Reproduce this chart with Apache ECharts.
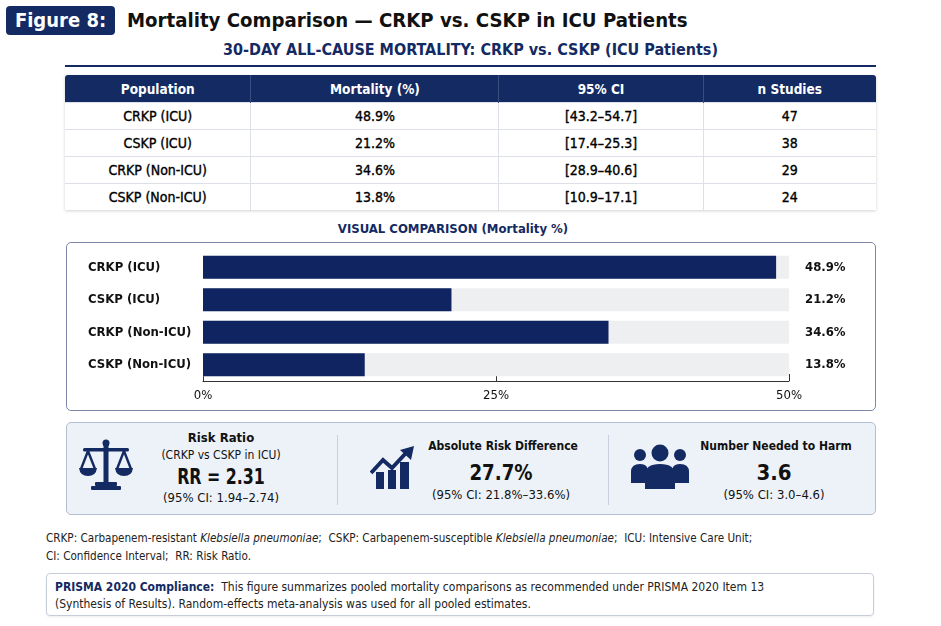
<!DOCTYPE html>
<html>
<head>
<meta charset="utf-8">
<script src="https://cdn.jsdelivr.net/npm/echarts@6/dist/echarts.min.js"></script>
<style>
  html,body{margin:0;padding:0;background:#fff;}
  body{width:941px;height:626px;position:relative;overflow:hidden;
       font-family:'DejaVu Sans Condensed','DejaVu Sans','Roboto',sans-serif;color:#111;}
  .abs{position:absolute;}
  #badge{left:6px;top:6px;width:109px;height:29px;background:#132a63;border-radius:4px;color:#fff;
         font-weight:bold;font-size:20px;line-height:29px;text-align:center;}
  #title{left:127px;top:6px;height:29px;line-height:29px;font-weight:bold;font-size:20.2px;color:#111;white-space:nowrap;}
  #subtitle{left:0;width:941px;top:40px;text-align:center;font-weight:bold;font-size:16px;color:#132a63;white-space:nowrap;}
  #rule{left:65px;top:65px;width:811px;height:2px;background:#132a63;}
  #tbl{left:65px;top:75px;width:811px;border-collapse:collapse;box-shadow:0 1px 3px rgba(0,0,0,0.18);}
  #tbl th{background:#132a63;color:#fff;font-weight:bold;font-size:13.5px;height:27px;padding:0;border-left:1px solid #3a4d80;}
  #tbl th:first-child{border-left:none;border-top-left-radius:3px;}
  #tbl th:last-child{border-top-right-radius:3px;}
  #tbl td{font-size:14px;height:26px;padding:0;text-align:center;border-top:1px solid #dde0e6;border-left:1px solid #dde0e6;color:#000;-webkit-text-stroke:0.35px #000;}
  #tbl td:first-child{border-left:none;}
  #vc{left:0;width:906px;top:221px;text-align:center;font-weight:bold;font-size:13px;color:#132a63;}
  #chartbox{left:66px;top:242px;width:808px;height:167px;border:1.5px solid #7d88a8;border-radius:5px;}
  #chart{left:66px;top:242px;width:810px;height:169px;}
  #kpi{left:66px;top:422px;width:808px;height:91px;border:1.5px solid #b3bdd3;border-radius:5px;background:#edf1f8;}
  .div{position:absolute;top:435px;width:1px;height:70px;background:#c8cfdd;}
  .kt{position:absolute;text-align:center;white-space:nowrap;}
  .lbl{font-size:13px;font-weight:bold;color:#111;}
  .lbl2{font-size:12px;font-weight:bold;color:#111;}
  .sub{font-size:12px;color:#111;}
  .big{font-size:22px;font-weight:bold;color:#111;}
  .ci{font-size:13px;color:#111;}
  #foot{left:46px;top:529px;font-size:11.6px;line-height:18px;color:#222;white-space:nowrap;}
  #prisma{left:46px;top:573px;width:826px;height:41px;border:1px solid #c6ccd8;border-radius:4px;box-shadow:0 1px 2px rgba(0,0,0,0.08);}
  #prisma div{position:absolute;left:8px;font-size:12px;color:#222;white-space:nowrap;}
</style>
</head>
<body>
<div id="badge" class="abs">Figure 8:</div>
<div id="title" class="abs">Mortality Comparison — CRKP vs. CSKP in ICU Patients</div>
<div id="subtitle" class="abs">30-DAY ALL-CAUSE MORTALITY: CRKP vs. CSKP (ICU Patients)</div>
<div id="rule" class="abs"></div>
<table id="tbl" class="abs"><thead><tr id="thead"></tr></thead><tbody id="tbody"></tbody></table>
<div id="vc" class="abs">VISUAL COMPARISON (Mortality %)</div>
<div id="chartbox" class="abs"></div>
<div id="chart" class="abs"></div>

<div id="kpi" class="abs"></div>
<div class="div" style="left:337px;"></div>
<div class="div" style="left:608px;"></div>

<!-- scale icon -->
<svg class="abs" style="left:78px;top:438px;" width="56" height="56" viewBox="0 0 56 56">
  <g fill="#132a63" stroke="#132a63">
    <circle cx="28" cy="5" r="3.5" stroke="none"/>
    <rect x="25.5" y="6" width="5" height="38" stroke="none"/>
    <rect x="5" y="10" width="46" height="3.5" rx="1.5" stroke="none"/>
    <path d="M10 13 L3 31 M10 13 L17 31 M46 13 L39 31 M46 13 L53 31" fill="none" stroke-width="2.4"/>
    <path d="M1 30 L19 30 Q18 38 10 38 Q2 38 1 30 Z" stroke="none"/>
    <path d="M37 30 L55 30 Q54 38 46 38 Q38 38 37 30 Z" stroke="none"/>
    <rect x="17" y="44" width="22" height="4" rx="1" stroke="none"/>
    <rect x="13" y="48" width="30" height="4" rx="1" stroke="none"/>
  </g>
</svg>
<!-- chart icon -->
<svg class="abs" style="left:370px;top:446px;" width="48" height="44" viewBox="0 0 48 44">
  <g fill="#132a63">
    <rect x="6" y="26" width="8" height="17"/>
    <rect x="18" y="24" width="8" height="19"/>
    <rect x="30" y="16" width="9" height="27"/>
    <path d="M1 27 L13 14 L22 22 L36 7" fill="none" stroke="#132a63" stroke-width="4" stroke-linejoin="miter"/>
    <path d="M30 4 L44 0 L41 14 Z"/>
  </g>
</svg>
<!-- people icon -->
<svg class="abs" style="left:630px;top:443px;" width="60" height="48" viewBox="0 0 60 48">
  <g fill="#132a63">
    <circle cx="10" cy="12" r="6"/>
    <circle cx="50" cy="12" r="6"/>
    <path d="M1 40 L1 29 Q1 21 10 21 Q15 21 17 24 L17 40 Z"/>
    <path d="M59 40 L59 29 Q59 21 50 21 Q45 21 43 24 L43 40 Z"/>
    <circle cx="30" cy="10" r="8.5"/>
    <path d="M15 46 L15 32 Q15 21 30 21 Q45 21 45 32 L45 46 Z"/>
  </g>
</svg>

<div class="kt lbl" style="left:151px;width:140px;top:430px;">Risk Ratio</div>
<div class="kt sub" style="left:151px;width:140px;top:448px;">(CRKP vs CSKP in ICU)</div>
<div class="kt big" style="left:151px;width:140px;top:464px;transform:scaleX(0.8);">RR = 2.31</div>
<div class="kt ci" style="left:151px;width:140px;top:490px;">(95% CI: 1.94–2.74)</div>

<div class="kt lbl2" style="left:418px;width:170px;top:439px;">Absolute Risk Difference</div>
<div class="kt big" style="left:416px;width:170px;top:460px;transform:scaleX(0.92);">27.7%</div>
<div class="kt ci" style="left:416px;width:170px;top:487px;">(95% CI: 21.8%–33.6%)</div>

<div class="kt lbl2" style="left:696px;width:160px;top:439px;">Number Needed to Harm</div>
<div class="kt big" style="left:694px;width:160px;top:460px;">3.6</div>
<div class="kt ci" style="left:694px;width:160px;top:487px;">(95% CI: 3.0–4.6)</div>

<div id="foot" class="abs">CRKP: Carbapenem-resistant <i>Klebsiella pneumoniae</i>;&nbsp; CSKP: Carbapenem-susceptible <i>Klebsiella pneumoniae</i>;&nbsp; ICU: Intensive Care Unit;<br>CI: Confidence Interval;&nbsp; RR: Risk Ratio.</div>

<div id="prisma" class="abs">
  <div style="top:6px;"><b style="color:#132a63;">PRISMA 2020 Compliance:</b>&nbsp; This figure summarizes pooled mortality comparisons as recommended under PRISMA 2020 Item 13</div>
  <div style="top:23px;">(Synthesis of Results). Random-effects meta-analysis was used for all pooled estimates.</div>
</div>

<script>
// ---- data ----
var tableHeaders = ['Population', 'Mortality (%)', '95% CI', 'n Studies'];
var populations = ['CRKP (ICU)', 'CSKP (ICU)', 'CRKP (Non-ICU)', 'CSKP (Non-ICU)'];
var mortality = [48.9, 21.2, 34.6, 13.8];
var ciLow = [43.2, 17.4, 28.9, 10.9];
var ciHigh = [54.7, 25.3, 40.6, 17.1];
var nStudies = [47, 38, 29, 24];
var axisMin = 0, axisMax = 50, axisStep = 25;

// ---- table ----
var colW = [186, 248, 204, 173];
var thead = document.getElementById('thead');
tableHeaders.forEach(function (h, i) {
  var th = document.createElement('th'); th.textContent = h; th.style.width = colW[i] + 'px'; thead.appendChild(th);
});
var tbody = document.getElementById('tbody');
populations.forEach(function (p, i) {
  var tr = document.createElement('tr');
  [p, mortality[i].toFixed(1) + '%', '[' + ciLow[i].toFixed(1) + '–' + ciHigh[i].toFixed(1) + ']', String(nStudies[i])]
    .forEach(function (v) { var td = document.createElement('td'); td.textContent = v; tr.appendChild(td); });
  tbody.appendChild(tr);
});

// ---- bar chart ----
var FONT = "'DejaVu Sans Condensed','DejaVu Sans','Roboto',sans-serif";
var chart = echarts.init(document.getElementById('chart'), null, {renderer: 'canvas'});
chart.setOption({
  animation: false,
  backgroundColor: 'transparent',
  grid: {left: 137, right: 87, top: 9, bottom: 30},
  xAxis: {
    type: 'value', min: axisMin, max: axisMax, interval: axisStep,
    splitLine: {show: false},
    axisLine: {show: true, lineStyle: {color: '#333', width: 1}},
    axisTick: {show: true, inside: true, length: 7, lineStyle: {color: '#333'}},
    axisLabel: {formatter: '{value}%', color: '#111', fontSize: 13, fontFamily: FONT, margin: 8}
  },
  yAxis: [{
    type: 'category', data: populations, inverse: true,
    axisLine: {show: false}, axisTick: {show: false},
    axisLabel: {align: 'left', margin: 115, color: '#111', fontSize: 13, fontWeight: 'bold', fontFamily: FONT}
  }, {
    type: 'category', position: 'right', inverse: true,
    data: mortality.map(function (v) { return v.toFixed(1) + '%'; }),
    axisLine: {show: false}, axisTick: {show: false},
    axisLabel: {align: 'left', margin: 16, color: '#111', fontSize: 13, fontWeight: 'bold', fontFamily: FONT}
  }],
  series: [{
    type: 'bar', data: mortality, yAxisIndex: 0, barWidth: 23,
    itemStyle: {color: '#0f2461'},
    showBackground: true, backgroundStyle: {color: '#eeeff1'}
  }]
});
</script>
</body>
</html>
